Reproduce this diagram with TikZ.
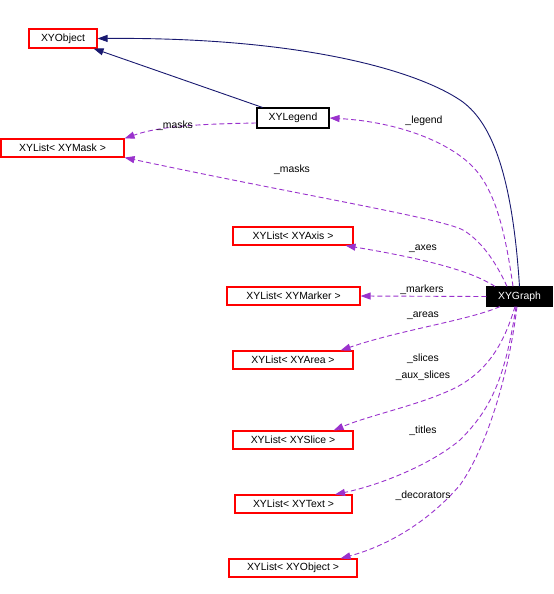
\documentclass[tikz,border=0pt]{standalone}
\usepackage{fontspec}
\setmainfont{Liberation Sans}
\usetikzlibrary{arrows.meta}
\definecolor{navyedge}{HTML}{191970}
\definecolor{purpedge}{HTML}{9A32CD}
\tikzset{
  cls/.style={draw=red, line width=1.1bp, minimum height=18bp, inner sep=0pt,
    font=\fontsize{10.4bp}{12bp}\selectfont},
  plainbox/.style={cls, draw=black},
  focusbox/.style={cls, draw=black, fill=black, text=white},
  inh/.style={draw=navyedge, line width=0.9bp, -{Triangle[length=10bp,width=7bp]}},
  usage/.style={draw=purpedge, line width=0.9bp, dash pattern=on 5bp off 3bp,
    -{Triangle[length=10bp,width=7bp]}},
  elab/.style={inner sep=0pt, align=center, font=\fontsize{10.4bp}{17bp}\selectfont}
}
\begin{document}
\begin{tikzpicture}[x=1bp,y=-1bp]
\useasboundingbox (0,0) rectangle (554,594);
% nodes
\node[cls, minimum width=68bp, minimum height=19bp] (xyobj) at (63,38.5) {XYObject};
\node[plainbox, minimum width=72bp, minimum height=20bp] (leg) at (293,118) {XYLegend};
\node[cls, minimum width=123bp] (mask) at (62.5,148) {XYList< XYMask >};
\node[cls, minimum width=120bp] (axis) at (293,236) {XYList< XYAxis >};
\node[cls, minimum width=133bp] (marker) at (293.5,296) {XYList< XYMarker >};
\node[focusbox, minimum width=65bp, minimum height=19bp] (g) at (519.5,296.5) {XYGraph};
\node[cls, minimum width=120bp] (area) at (293,360) {XYList< XYArea >};
\node[cls, minimum width=120bp] (slice) at (293,440) {XYList< XYSlice >};
\node[cls, minimum width=117bp] (txt) at (293.5,504) {XYList< XYText >};
\node[cls, minimum width=128bp] (objl) at (293,568) {XYList< XYObject >};
% inheritance
\draw[inh] (g.north) .. controls (512,170) and (490,120) .. (460,100)
  .. controls (415,70) and (300,37) .. (xyobj.east);
\draw[inh] ([xshift=6bp]leg.north west) -- ([xshift=-4bp]xyobj.south east);
% usage
\draw[usage] ([xshift=-6.5bp]g.north) .. controls (505,230) and (495,190) .. (473,167)
  .. controls (450,143) and (400,122) .. (leg.east);
\draw[usage] ([xshift=-12.5bp]g.north) .. controls (495,260) and (480,240) .. (463,230)
  .. controls (440,218) and (300,195) .. (mask.south east);
\draw[usage] ([yshift=-5bp]leg.west) .. controls (200,124) and (160,126) .. (mask.north east);
\draw[usage] ([xshift=-24.5bp]g.north) .. controls (470,270) and (420,258) .. ([xshift=-8bp]axis.south east);
\draw[usage] (g.west) -- (marker.east);
\draw[usage] ([xshift=-19.5bp]g.south) .. controls (470,320) and (400,330) .. ([xshift=-13bp]area.north east);
\draw[usage] ([xshift=-4.5bp]g.south) .. controls (505,340) and (490,370) .. (455,388)
  .. controls (420,405) and (370,415) .. ([xshift=-20bp]slice.north east);
\draw[usage] ([xshift=-3.5bp]g.south) .. controls (505,380) and (490,410) .. (460,440)
  .. controls (430,465) and (380,485) .. ([xshift=-17.5bp]txt.north east);
\draw[usage] ([xshift=-2.5bp]g.south) .. controls (508,380) and (485,450) .. (460,485)
  .. controls (430,520) and (390,545) .. ([xshift=-17bp]objl.north east);
% labels
\node[elab] (lmasks1) at (175,125.5) {\_masks};
\node[elab] (lmasks2) at (292,169.5) {\_masks};
\node[elab] (llegend) at (424,120.5) {\_legend};
\node[elab] (laxes) at (423,248.5) {\_axes};
\node[elab] (lmarkers) at (422,289.5) {\_markers};
\node[elab] (lareas) at (423,315.5) {\_areas};
\node[elab] (lslices) at (423,367) {\_slices\\\_aux\_slices};
\node[elab] (ltitles) at (423,430.5) {\_titles};
\node[elab] (ldecor) at (423,495.5) {\_decorators};
\end{tikzpicture}
\end{document}
